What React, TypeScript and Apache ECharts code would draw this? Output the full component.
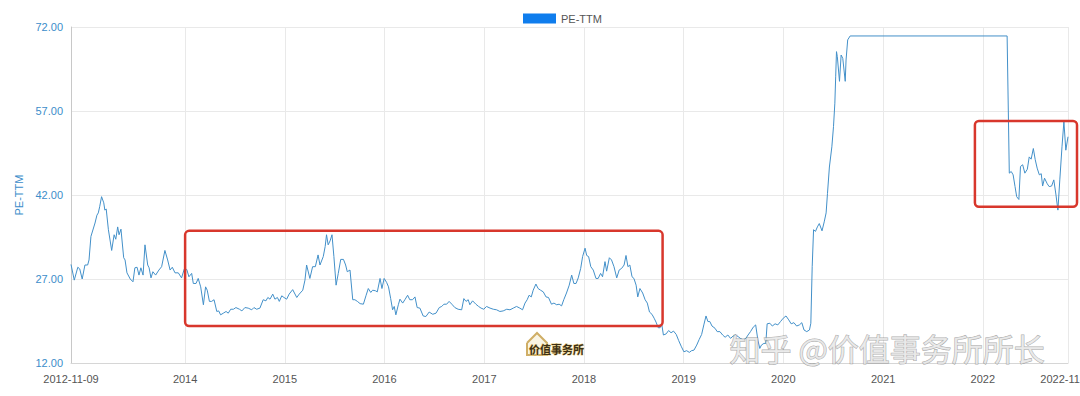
import React, { useEffect, useRef } from 'react';
import * as echarts from 'echarts';

const dates: string[] = [
  '2012-11-09','2012-11-21','2012-12-04','2012-12-11','2012-12-20','2012-12-30',
  '2013-01-09','2013-01-14','2013-01-21','2013-02-05','2013-02-12','2013-02-17','2013-02-22','2013-03-01','2013-03-09','2013-03-13','2013-03-18','2013-03-26',
  '2013-04-07','2013-04-16','2013-04-22','2013-04-29','2013-05-04','2013-05-11','2013-05-21','2013-05-26','2013-06-02','2013-06-14','2013-06-24',
  '2013-07-01','2013-07-09','2013-07-16','2013-07-23','2013-07-31','2013-08-07','2013-08-17','2013-08-22','2013-08-29','2013-09-05','2013-09-15','2013-09-27',
  '2013-10-07','2013-10-19','2013-10-29','2013-11-07','2013-11-15','2013-11-25','2013-12-07','2013-12-19','2013-12-29',
  '2014-01-07','2014-01-15','2014-01-25','2014-01-31','2014-02-10','2014-02-18','2014-02-27','2014-03-09','2014-03-17','2014-03-23','2014-03-31',
  '2014-04-08','2014-04-17','2014-04-27','2014-05-04','2014-05-11','2014-05-21','2014-05-31','2014-06-08','2014-06-17','2014-06-27',
  '2014-07-06','2014-07-19','2014-07-28','2014-08-08','2014-08-20','2014-09-02','2014-09-10','2014-09-20','2014-10-02','2014-10-14','2014-10-24','2014-10-31',
  '2014-11-08','2014-11-18','2014-11-26','2014-12-05','2014-12-12','2014-12-21','2014-12-29',
  '2015-01-08','2015-01-17','2015-01-30','2015-02-14','2015-02-23','2015-03-08','2015-03-16','2015-03-22','2015-04-03','2015-04-13','2015-04-23',
  '2015-05-03','2015-05-10','2015-05-22','2015-05-29','2015-06-03','2015-06-09','2015-06-16','2015-06-23','2015-06-30','2015-07-08','2015-07-16','2015-07-25',
  '2015-08-04','2015-08-12','2015-08-18','2015-08-28','2015-09-07','2015-09-15','2015-09-24','2015-10-04','2015-10-16','2015-10-26',
  '2015-11-03','2015-11-12','2015-11-19','2015-11-29','2015-12-06','2015-12-16','2015-12-23','2015-12-31',
  '2016-01-09','2016-01-16','2016-01-24','2016-01-31','2016-02-06','2016-02-12','2016-02-21','2016-02-27','2016-03-08','2016-03-16','2016-03-26',
  '2016-04-03','2016-04-13','2016-04-22','2016-04-30','2016-05-10','2016-05-22','2016-06-01','2016-06-13','2016-06-26','2016-07-08','2016-07-20','2016-07-29',
  '2016-08-06','2016-08-16','2016-08-25','2016-09-04','2016-09-15','2016-09-27','2016-10-10','2016-10-18','2016-10-26','2016-11-03','2016-11-09','2016-11-19',
  '2016-12-01','2016-12-11','2016-12-20','2016-12-30',
  '2017-01-09','2017-01-22','2017-02-03','2017-02-15','2017-02-27','2017-03-11','2017-03-24','2017-04-05','2017-04-17','2017-04-29','2017-05-11','2017-05-21',
  '2017-05-30','2017-06-07','2017-06-14','2017-06-22','2017-06-29','2017-07-09','2017-07-17','2017-07-26','2017-08-05','2017-08-15','2017-08-24',
  '2017-09-04','2017-09-13','2017-09-23','2017-10-02','2017-10-11','2017-10-19','2017-10-29','2017-11-08','2017-11-17','2017-11-25','2017-12-03',
  '2017-12-11','2017-12-20','2017-12-27',
  '2018-01-05','2018-01-11','2018-01-18','2018-01-26','2018-02-04','2018-02-14','2018-02-22','2018-03-03','2018-03-10','2018-03-19','2018-03-25',
  '2018-04-04','2018-04-12','2018-04-21','2018-05-01','2018-05-10','2018-05-19','2018-05-28','2018-06-04','2018-06-11','2018-06-18','2018-06-26',
  '2018-07-03','2018-07-11','2018-07-17','2018-07-25','2018-08-04','2018-08-13','2018-08-21','2018-08-29','2018-09-07','2018-09-15','2018-09-22',
  '2018-09-30','2018-10-07','2018-10-13','2018-10-19','2018-10-29','2018-11-07','2018-11-16','2018-11-25','2018-12-05','2018-12-14','2018-12-23',
  '2019-01-02','2019-01-12','2019-01-22','2019-01-30','2019-02-08','2019-02-18','2019-02-27','2019-03-08','2019-03-16','2019-03-24','2019-03-31',
  '2019-04-07','2019-04-15','2019-04-26','2019-05-04','2019-05-14','2019-05-24','2019-06-02','2019-06-12','2019-06-22','2019-07-01','2019-07-11',
  '2019-07-20','2019-07-28','2019-08-07','2019-08-17','2019-08-25','2019-09-03','2019-09-13','2019-09-22','2019-09-30','2019-10-07','2019-10-13',
  '2019-10-22','2019-10-29','2019-11-03','2019-11-13','2019-11-22','2019-12-02','2019-12-12','2019-12-22',
  '2020-01-01','2020-01-11','2020-01-21','2020-01-30','2020-02-09','2020-02-19','2020-02-29','2020-03-09','2020-03-17','2020-03-27','2020-04-06',
  '2020-04-11','2020-04-16','2020-04-21','2020-04-28','2020-05-05','2020-05-12','2020-05-22','2020-05-30','2020-06-06','2020-06-11','2020-06-18',
  '2020-06-27','2020-07-03','2020-07-08','2020-07-11','2020-07-14','2020-07-17','2020-07-25','2020-07-31','2020-08-06','2020-08-15','2020-08-18',
  '2020-08-24','2020-09-02','2022-03-31',
  '2022-04-08','2022-04-15','2022-04-22','2022-04-29','2022-05-05','2022-05-13','2022-05-19','2022-05-27','2022-06-04','2022-06-13','2022-06-20',
  '2022-06-27','2022-07-05','2022-07-12','2022-07-19','2022-07-27','2022-08-03','2022-08-08','2022-08-15','2022-08-25','2022-09-01','2022-09-10',
  '2022-09-18','2022-09-26','2022-10-03','2022-10-10','2022-10-18','2022-10-25','2022-11-01','2022-11-09',
];

const peTtm: number[] = [
  29.6,26.8,29.1,28.8,27.0,29.5,
  29.5,30.4,34.6,37.0,38.4,38.8,39.9,41.7,40.6,39.3,39.5,35.8,
  32.1,34.9,34.1,36.3,34.9,35.9,30.8,30.4,28.1,27.0,26.5,
  29.0,29.1,27.7,29.0,27.7,33.1,29.5,29.0,27.2,28.3,27.7,28.6,
  29.2,32.1,30.4,28.6,29.1,28.1,28.1,27.2,28.8,
  28.7,27.4,28.0,26.2,26.2,27.1,25.6,22.4,25.6,25.0,23.0,
  23.0,23.3,21.2,21.3,20.6,20.9,21.2,20.9,21.6,21.6,
  21.9,21.6,21.3,21.9,21.8,21.5,21.9,21.6,21.8,23.3,23.1,23.7,
  23.4,24.3,23.4,23.7,23.0,24.0,23.7,
  23.4,24.3,25.1,23.7,24.3,25.0,26.8,29.5,27.1,29.2,29.2,
  31.3,29.5,31.0,32.8,34.9,33.1,33.8,34.9,31.0,25.9,28.0,30.5,
  30.5,29.5,28.3,28.6,23.3,23.3,23.0,22.6,22.5,24.1,
  25.3,24.6,25.0,24.9,24.7,27.1,25.3,27.1,
  26.4,25.6,23.5,21.5,22.1,20.6,22.4,23.4,22.7,23.3,24.1,
  23.3,23.3,23.8,21.9,21.8,20.4,20.3,21.1,20.7,20.9,21.9,22.1,
  22.5,22.5,23.0,22.5,21.9,21.6,21.5,23.5,23.0,23.3,22.4,23.1,
  22.5,22.1,21.8,21.6,
  22.1,21.8,21.6,21.5,21.2,21.3,21.6,21.5,21.8,22.1,21.8,21.5,
  22.7,23.3,24.1,23.8,25.0,26.1,25.3,25.0,24.7,23.8,23.7,
  22.5,22.7,22.4,22.5,22.2,23.3,24.5,25.9,27.7,26.2,26.2,
  27.2,28.9,31.0,
  32.5,31.2,31.0,29.2,28.6,27.1,27.1,28.0,27.4,30.1,28.4,
  30.8,30.4,29.2,27.2,28.6,28.9,29.5,31.2,29.2,29.5,27.4,
  27.1,25.9,23.8,25.3,24.5,23.3,22.7,21.1,20.7,20.0,19.3,
  18.3,18.3,18.9,17.0,17.2,17.8,17.4,17.7,17.1,16.0,15.0,
  14.0,14.2,13.9,14.2,14.3,15.2,16.2,17.1,18.8,20.4,19.4,
  19.4,18.6,18.2,17.6,17.6,17.0,16.6,17.0,16.4,16.8,17.0,
  16.7,16.4,16.1,16.4,17.0,17.6,18.4,18.8,16.1,14.6,15.2,
  15.5,15.5,19.0,19.1,18.6,19.0,18.8,19.4,
  20.0,20.4,19.7,19.0,19.2,18.6,18.8,19.2,17.9,17.6,17.9,
  19.1,29.2,35.8,35.5,36.3,36.9,35.6,37.2,38.8,42.3,47.0,
  50.6,54.2,58.4,63.1,67.6,66.7,62.3,67.0,66.4,62.3,66.1,
  69.7,70.4,70.4,
  45.9,46.2,45.6,43.5,41.7,41.2,47.1,47.4,45.9,46.6,48.8,
  48.4,50.3,48.3,46.8,45.6,45.8,43.6,45.0,44.0,43.5,43.6,
  44.7,42.0,39.3,44.7,50.6,55.1,50.0,52.4,
];

const seriesName = 'PE-TTM';
const xMin = '2012-11-09';
const xMax = '2022-11-09';
const xTickDates: string[] = [
  '2012-11-09','2014-01-01','2015-01-01','2016-01-01','2017-01-01','2018-01-01',
  '2019-01-01','2020-01-01','2021-01-01','2022-01-01','2022-11-09',
];
const yMin = 12;
const yMax = 72;
const yTicks: number[] = [12, 27, 42, 57, 72];

// annotation boxes, in data coordinates: [date, value] of two corners
const boxStarts: [string, number][] = [['2014-01-01', 35.6], ['2021-12-03', 55.2]];
const boxEnds: [string, number][] = [['2018-10-16', 18.6], ['2022-12-12', 39.9]];

const watermark = '知乎 @价值事务所所长';
const logoText = '价值事务所';

function ts(s: string): number {
  const [y, m, d] = s.split('-').map(Number);
  return new Date(y, m - 1, d).getTime();
}
function pad(n: number) {
  return n < 10 ? '0' + n : String(n);
}

export default function App() {
  const ref = useRef<HTMLDivElement>(null);
  useEffect(() => {
    document.body.style.margin = '0';
    const chart = echarts.init(ref.current!, null, { renderer: 'svg' });
    const font = 'Arial, "Liberation Sans", Helvetica, sans-serif';
    const data = dates.map((d, i) => [ts(d), peTtm[i]]);
    const xTicks = xTickDates.map(ts);
    chart.setOption({
      animation: false,
      backgroundColor: '#ffffff',
      textStyle: { fontFamily: font },
      legend: {
        left: 518,
        top: 8,
        itemWidth: 33,
        itemHeight: 10,
        data: [{ name: seriesName, icon: 'rect', itemStyle: { color: '#0f7ded' } }],
        textStyle: { color: '#555', fontSize: 11, fontFamily: font },
      },
      grid: { left: 71, right: 12, top: 27, bottom: 33, containLabel: false, outerBoundsMode: 'none' },
      xAxis: {
        type: 'value',
        min: ts(xMin),
        max: ts(xMax),
        axisLine: { show: true, lineStyle: { color: '#d6d6d6', width: 1 } },
        axisTick: { show: false, customValues: xTicks },
        axisLabel: {
          customValues: xTicks,
          color: '#555',
          fontSize: 11,
          margin: 10,
          hideOverlap: false,
          formatter: (v: number) => {
            const d = new Date(v);
            if (d.getMonth() === 0 && d.getDate() === 1) return String(d.getFullYear());
            return `${d.getFullYear()}-${pad(d.getMonth() + 1)}-${pad(d.getDate())}`;
          },
        },
        splitLine: { show: true, lineStyle: { color: '#e9e9e9', width: 1 } },
      },
      yAxis: {
        type: 'value',
        min: yMin,
        max: yMax,
        name: seriesName,
        nameLocation: 'middle',
        nameGap: 43,
        nameTextStyle: { color: '#3c8dca', fontSize: 11, fontFamily: font },
        axisLine: { show: true, lineStyle: { color: '#c8c8c8', width: 1 } },
        axisTick: { show: false, customValues: yTicks },
        axisLabel: {
          customValues: yTicks,
          color: '#3c8dca',
          fontSize: 11,
          margin: 8,
          formatter: (v: number) => v.toFixed(2),
        },
        splitLine: { show: true, lineStyle: { color: '#e9e9e9', width: 1 } },
      },
      series: [
        {
          name: seriesName,
          type: 'line',
          data,
          showSymbol: false,
          symbol: 'none',
          lineStyle: { color: '#4390c9', width: 1 },
          itemStyle: { color: '#4390c9' },
        },
      ],
    });

    const rects = boxStarts.map((s, i) => {
      const p1 = chart.convertToPixel({ gridIndex: 0 }, [ts(s[0]), s[1]]) as number[];
      const p2 = chart.convertToPixel({ gridIndex: 0 }, [ts(boxEnds[i][0]), boxEnds[i][1]]) as number[];
      return {
        type: 'rect',
        id: 'box' + i,
        z: 100,
        shape: { x: p1[0], y: p1[1], width: p2[0] - p1[0], height: p2[1] - p1[1], r: 4 },
        style: { fill: 'none', stroke: '#d8372c', lineWidth: 2.5 },
      };
    });

    chart.setOption({
      graphic: [
        ...rects,
        {
          type: 'group',
          id: 'logo',
          left: 526,
          top: 332,
          z: 90,
          children: [
            {
              type: 'polyline',
              shape: { points: [[1, 12], [11, 2], [21, 12], [21, 24], [1, 24], [1, 12]] },
              style: { stroke: '#cfae66', lineWidth: 2, fill: 'rgba(245,236,210,0.6)' },
            },
            {
              type: 'text',
              x: 3,
              y: 12,
              style: {
                text: logoText,
                fontSize: 11,
                fontWeight: 'bold',
                fontFamily: '"Noto Sans CJK SC"',
                fill: '#3d2f14',
                stroke: '#e8cf8a',
                lineWidth: 1,
              },
            },
          ],
        },
        {
          type: 'text',
          id: 'wm',
          left: 729,
          top: 331,
          z: 200,
          style: {
            text: watermark,
            fontSize: 31,
            fontFamily: '"Noto Sans CJK SC"',
            fill: 'rgba(232,232,232,0.85)',
            stroke: 'rgba(110,110,110,0.6)',
            lineWidth: 1,
          },
        },
      ],
    });
    return () => chart.dispose();
  }, []);
  return <div ref={ref} style={{ width: 1080, height: 396 }} />;
}
